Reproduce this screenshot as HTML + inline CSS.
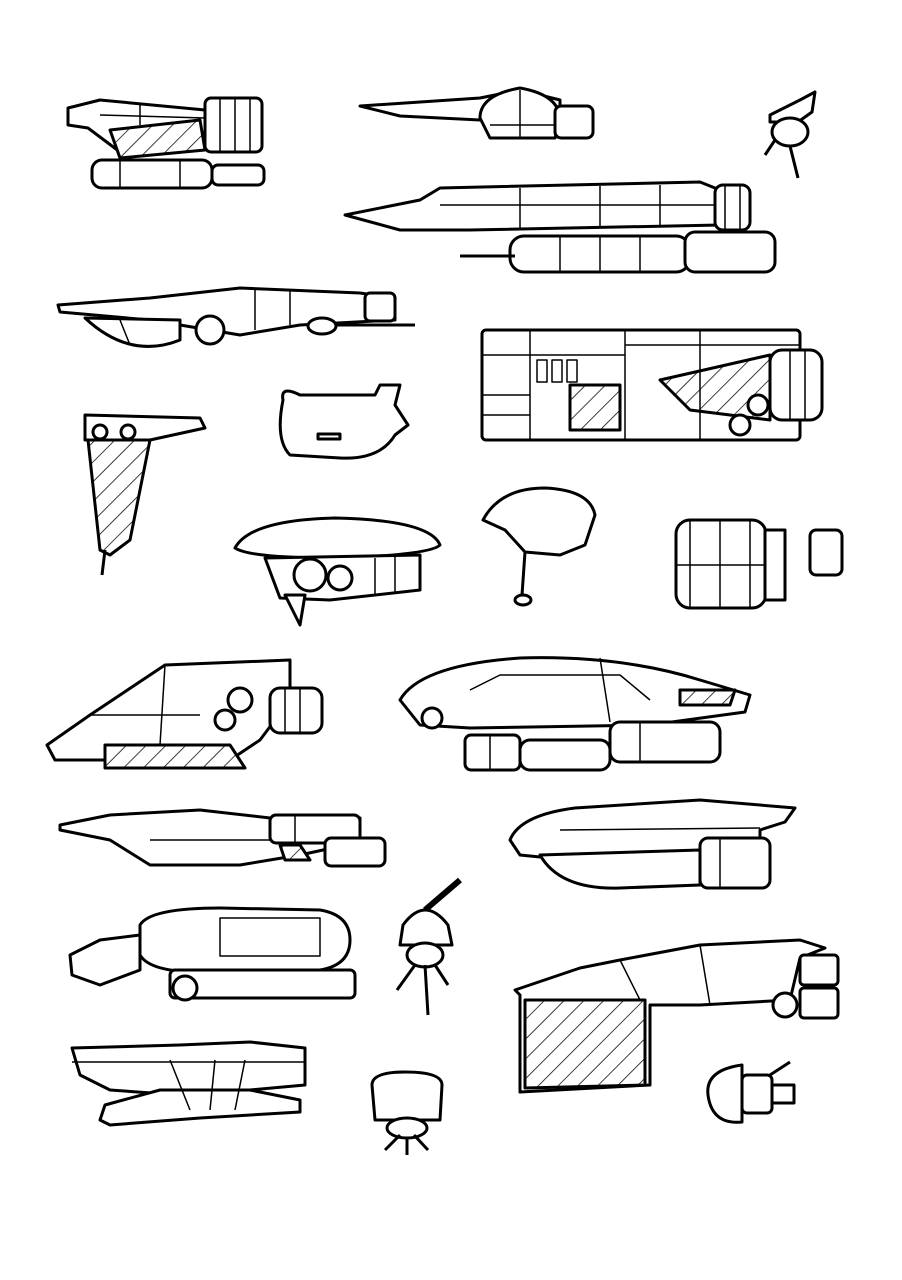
<!DOCTYPE html>
<html><head><meta charset="utf-8"><style>
html,body{margin:0;padding:0;background:#fff;width:902px;height:1280px;overflow:hidden}
svg{display:block}
</style></head><body>
<svg width="902" height="1280" viewBox="0 0 902 1280" xmlns="http://www.w3.org/2000/svg">
<defs>
<pattern id="h" width="14" height="14" patternUnits="userSpaceOnUse" patternTransform="rotate(45)">
<rect width="14" height="14" fill="#fff"/><line x1="0" y1="0" x2="0" y2="14" stroke="#000" stroke-width="1.5"/></pattern>
</defs>
<g fill="#fff" stroke="#000" stroke-width="3" stroke-linejoin="round">
<!-- ship 1 -->
<polygon points="68,108 100,100 205,110 205,148 120,152 88,128 68,125"/>
<rect x="205" y="98" width="57" height="54" rx="6"/>
<polygon points="110,130 200,120 205,150 120,158" fill="url(#h)"/>
<rect x="92" y="160" width="120" height="28" rx="10"/>
<rect x="212" y="165" width="52" height="20" rx="6"/>
<g stroke-width="1.5"><line x1="220" y1="98" x2="220" y2="152"/><line x1="235" y1="98" x2="235" y2="152"/><line x1="250" y1="98" x2="250" y2="152"/><line x1="120" y1="160" x2="120" y2="188"/><line x1="180" y1="160" x2="180" y2="188"/><line x1="140" y1="104" x2="140" y2="125"/><line x1="100" y1="115" x2="205" y2="118"/></g>
<!-- ship 2 -->
<polygon points="360,106 480,98 520,90 560,100 560,118 480,120 400,116"/>
<path d="M480,118 Q480,95 520,88 Q560,95 560,120 L555,138 L490,138 Z"/>
<rect x="555" y="106" width="38" height="32" rx="6"/>
<g stroke-width="1.5"><line x1="490" y1="125" x2="555" y2="125"/><line x1="520" y1="90" x2="520" y2="138"/></g>
<!-- ship 3 -->
<path d="M770,115 L800,100 L815,92 L812,112 L798,122 L770,122 Z"/>
<ellipse cx="790" cy="132" rx="18" ry="14"/>
<line x1="790" y1="146" x2="798" y2="178"/><line x1="775" y1="140" x2="765" y2="155"/>
<!-- ship 4 -->
<polygon points="345,215 420,200 440,188 700,182 720,190 720,225 470,230 400,230"/>
<rect x="715" y="185" width="35" height="45" rx="8"/>
<rect x="510" y="236" width="180" height="36" rx="14"/>
<rect x="685" y="232" width="90" height="40" rx="10"/>
<line x1="460" y1="256" x2="515" y2="256"/>
<g stroke-width="1.5"><line x1="560" y1="236" x2="560" y2="272"/><line x1="600" y1="236" x2="600" y2="272"/><line x1="640" y1="236" x2="640" y2="272"/><line x1="440" y1="205" x2="715" y2="205"/><line x1="520" y1="188" x2="520" y2="228"/><line x1="600" y1="186" x2="600" y2="228"/><line x1="660" y1="185" x2="660" y2="226"/><line x1="725" y1="185" x2="725" y2="230"/><line x1="740" y1="185" x2="740" y2="230"/></g>
<!-- ship 5 -->
<polygon points="58,305 150,298 240,288 360,293 395,298 395,320 300,325 240,335 150,320 60,312"/>
<path d="M85,318 Q130,360 180,340 L180,320 Z"/>
<circle cx="210" cy="330" r="14"/>
<rect x="365" y="293" width="30" height="28" rx="5"/>
<line x1="330" y1="325" x2="415" y2="325"/>
<ellipse cx="322" cy="326" rx="14" ry="8"/>
<g stroke-width="1.5"><line x1="255" y1="290" x2="255" y2="330"/><line x1="290" y1="290" x2="290" y2="325"/><line x1="120" y1="320" x2="130" y2="345"/></g>
<!-- ship 6 -->
<rect x="482" y="330" width="318" height="110" rx="4"/>
<rect x="770" y="350" width="52" height="70" rx="12"/>
<polygon points="570,385 620,385 620,430 570,430" fill="url(#h)"/>
<polygon points="660,380 770,355 770,420 690,410" fill="url(#h)"/>
<g stroke-width="1.5"><line x1="530" y1="330" x2="530" y2="440"/><line x1="625" y1="330" x2="625" y2="440"/><line x1="482" y1="355" x2="625" y2="355"/><rect x="537" y="360" width="10" height="22"/><rect x="552" y="360" width="10" height="22"/><rect x="567" y="360" width="10" height="22"/><line x1="482" y1="395" x2="530" y2="395"/><line x1="482" y1="415" x2="530" y2="415"/><line x1="625" y1="345" x2="800" y2="345"/><line x1="700" y1="330" x2="700" y2="440"/><line x1="790" y1="350" x2="790" y2="420"/><line x1="805" y1="350" x2="805" y2="420"/></g>
<circle cx="740" cy="425" r="10"/><circle cx="758" cy="405" r="10"/>
<!-- ship 7 -->
<polygon points="85,415 200,418 205,428 150,440 85,440"/>
<polygon points="88,440 150,440 130,540 110,555 100,550" fill="url(#h)"/>
<line x1="105" y1="550" x2="102" y2="575"/>
<circle cx="100" cy="432" r="7"/><circle cx="128" cy="432" r="7"/>
<!-- ship 8 -->
<path d="M283,400 Q280,385 300,395 L375,395 L380,385 L400,385 L395,405 L408,425 L395,435 Q380,460 340,458 L290,455 Q275,440 283,400 Z"/>
<rect x="318" y="434" width="22" height="5"/>
<!-- ship 9 -->
<path d="M235,548 Q250,520 335,518 Q430,520 440,545 Q430,555 335,558 Q250,558 235,548 Z"/>
<path d="M265,558 L420,555 L420,590 L330,600 L280,598 Z"/>
<circle cx="310" cy="575" r="16"/><circle cx="340" cy="578" r="12"/>
<polygon points="285,595 300,625 305,595"/>
<g stroke-width="1.5"><line x1="375" y1="558" x2="375" y2="595"/><line x1="395" y1="556" x2="395" y2="592"/></g>
<!-- ship 10 -->
<path d="M483,520 Q500,488 545,488 Q590,490 595,515 L585,545 L560,555 L525,552 L505,530 Z"/>
<line x1="525" y1="552" x2="522" y2="595"/><ellipse cx="523" cy="600" rx="8" ry="5"/>
<!-- ship 11 -->
<rect x="676" y="520" width="90" height="88" rx="14"/>
<rect x="765" y="530" width="20" height="70"/>
<rect x="810" y="530" width="32" height="45" rx="6"/>
<g stroke-width="1.5"><line x1="720" y1="520" x2="720" y2="608"/><line x1="676" y1="565" x2="766" y2="565"/><line x1="690" y1="520" x2="690" y2="608"/><line x1="750" y1="520" x2="750" y2="608"/></g>
<!-- ship 12 -->
<polygon points="47,745 90,715 165,665 290,660 290,700 260,740 230,760 100,760 55,760"/>
<polygon points="105,745 230,745 245,768 105,768" fill="url(#h)"/>
<rect x="270" y="688" width="52" height="45" rx="10"/>
<circle cx="240" cy="700" r="12"/><circle cx="225" cy="720" r="10"/>
<g stroke-width="1.5"><line x1="165" y1="665" x2="160" y2="745"/><line x1="90" y1="715" x2="200" y2="715"/><line x1="285" y1="688" x2="285" y2="733"/><line x1="300" y1="688" x2="300" y2="733"/></g>
<!-- ship 13 -->
<path d="M400,700 Q420,665 520,658 Q620,655 700,680 L750,695 L745,712 L650,725 L470,728 L420,725 Z"/>
<polygon points="680,690 735,690 730,705 680,705" fill="url(#h)"/>
<rect x="465" y="735" width="55" height="35" rx="6"/>
<rect x="520" y="740" width="90" height="30" rx="10"/>
<rect x="610" y="722" width="110" height="40" rx="10"/>
<circle cx="432" cy="718" r="10"/>
<g stroke-width="1.5"><path d="M470,690 L500,675 L620,675 L650,700"/><line x1="600" y1="658" x2="610" y2="722"/><line x1="490" y1="735" x2="490" y2="770"/><line x1="640" y1="722" x2="640" y2="762"/></g>
<!-- ship 14 -->
<polygon points="60,825 110,815 200,810 270,818 360,818 360,842 300,855 240,865 150,865 110,840 60,830"/>
<rect x="270" y="815" width="90" height="28" rx="6"/>
<rect x="325" y="838" width="60" height="28" rx="6"/>
<polygon points="280,845 300,845 310,860 285,860" fill="url(#h)"/>
<g stroke-width="1.5"><line x1="150" y1="840" x2="270" y2="840"/><line x1="295" y1="815" x2="295" y2="843"/></g>
<!-- ship 15 -->
<path d="M510,840 Q520,815 575,808 L700,800 L795,808 L785,822 L760,830 L760,860 L620,865 L520,855 Z"/>
<rect x="700" y="838" width="70" height="50" rx="8"/>
<path d="M540,855 Q560,890 620,888 L700,885 L700,850 Z"/>
<g stroke-width="1.5"><line x1="560" y1="830" x2="760" y2="828"/><line x1="720" y1="838" x2="720" y2="888"/></g>
<!-- ship 16 -->
<path d="M140,925 Q150,908 220,908 L320,910 Q350,915 350,940 Q350,965 320,970 L200,972 Q150,972 140,955 Z"/>
<polygon points="70,955 100,940 140,935 140,970 100,985 72,975"/>
<rect x="170" y="970" width="185" height="28" rx="5"/>
<circle cx="185" cy="988" r="12"/>
<g stroke-width="1.5"><rect x="220" y="918" width="100" height="38"/></g>
<!-- ship 17 -->
<line x1="425" y1="910" x2="460" y2="880" stroke-width="6"/>
<path d="M403,925 Q425,895 448,925 L452,945 L400,945 Z"/>
<ellipse cx="425" cy="955" rx="18" ry="12"/>
<line x1="415" y1="965" x2="397" y2="990"/><line x1="425" y1="965" x2="428" y2="1015"/><line x1="435" y1="965" x2="448" y2="985"/>
<!-- ship 18 -->
<polygon points="515,990 580,968 620,960 700,945 800,940 825,948 800,958 790,1000 700,1005 650,1005 650,1085 520,1092 520,995" />
<polygon points="525,1000 645,1000 645,1085 525,1088" fill="url(#h)"/>
<rect x="800" y="955" width="38" height="30" rx="4"/>
<rect x="800" y="988" width="38" height="30" rx="4"/>
<circle cx="785" cy="1005" r="12"/>
<g stroke-width="1.5"><line x1="620" y1="960" x2="640" y2="1000"/><line x1="700" y1="945" x2="710" y2="1005"/></g>
<!-- ship 19 -->
<polygon points="72,1048 180,1045 250,1042 305,1048 305,1085 250,1090 180,1095 110,1090 80,1075"/>
<polygon points="105,1105 160,1090 250,1090 300,1100 300,1112 200,1118 110,1125 100,1120"/>
<g stroke-width="1.5"><line x1="170" y1="1060" x2="190" y2="1110"/><line x1="215" y1="1060" x2="210" y2="1110"/><line x1="245" y1="1060" x2="235" y2="1110"/><line x1="72" y1="1062" x2="305" y2="1062"/></g>
<!-- ship 20 -->
<path d="M372,1085 Q372,1072 405,1072 Q442,1072 442,1085 L440,1120 L375,1120 Z"/>
<ellipse cx="407" cy="1128" rx="20" ry="10"/>
<line x1="400" y1="1135" x2="385" y2="1150"/><line x1="407" y1="1138" x2="407" y2="1155"/><line x1="414" y1="1135" x2="428" y2="1150"/>
<!-- ship 21 -->
<path d="M742,1065 Q705,1070 708,1095 Q712,1125 742,1122 Z"/>
<rect x="742" y="1075" width="30" height="38" rx="5"/>
<rect x="772" y="1085" width="22" height="18"/>
<line x1="770" y1="1075" x2="790" y2="1062"/>
</g>
</svg>
</body></html>
